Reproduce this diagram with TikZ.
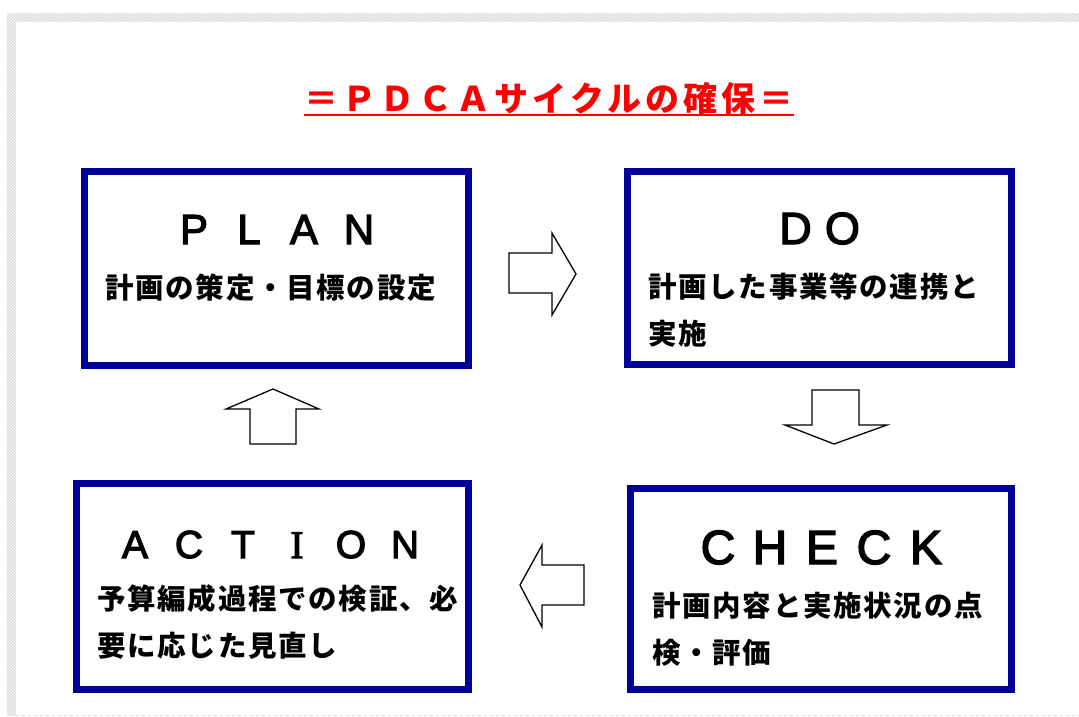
\documentclass[tikz,border=0pt]{standalone}
\usepackage{fontspec}
\usetikzlibrary{patterns}
\newfontfamily\jptitle[LetterSpace=12]{Noto Sans CJK JP}
\newfontfamily\headfont[FakeBold=3]{Liberation Sans}
\newfontfamily\headserif[FakeBold=3]{Liberation Serif}
\newfontfamily\jpbody[LetterSpace=6]{Noto Sans CJK JP}
\definecolor{boxblue}{RGB}{0,0,150}
% one letter of a heading in a cell of fixed pitch
\newcommand{\hdl}[2][54pt]{\makebox[#1][c]{#2}}

\begin{document}
\begin{tikzpicture}[x=1pt,y=-1pt,
    stagebox/.style={draw=boxblue,line width=7pt,fill=white,inner sep=0pt},
    headtext/.style={inner sep=0pt,anchor=base},
    bodytext/.style={inner sep=0pt,anchor=base west,font=\jpbody\bfseries\fontsize{28.5}{34}\selectfont},
    blockarrow/.style={draw=black,line width=1.3pt,fill=white,line join=miter}]
    \useasboundingbox (0,0) rectangle (1079,716);
    % hatched frame
    \fill[black!14] (7,13) rectangle (1079,22);
    \fill[black!14] (7,13) rectangle (16,716);
    \fill[pattern=north east lines,pattern color=white] (7,13) rectangle (1079,22);
    \fill[pattern=north east lines,pattern color=white] (7,13) rectangle (16,716);
    \draw[black!15,dashed,line width=1pt] (16,715) -- (1079,715);

    % title
    \node[inner sep=0pt,anchor=base,text=red,font=\jptitle\bfseries\fontsize{34}{40}\selectfont] (title) at (549,111) {＝ＰＤＣＡサイクルの確保＝};
    \draw[red,line width=2pt] ([yshift=-4pt]title.base west) -- ([yshift=-4pt]title.base east);

    % the four stages
    \node[stagebox,minimum width=384pt,minimum height=194pt] (plan) at (276,268) {};
    \node[stagebox,minimum width=384pt,minimum height=193pt] (do) at (819,267.5) {};
    \node[stagebox,minimum width=392pt,minimum height=206pt] (action) at (272,586) {};
    \node[stagebox,minimum width=381pt,minimum height=201pt] (check) at (820.5,588.5) {};

    \node[headtext,font=\headfont\fontsize{42}{44}\selectfont] (planhead) at (276.5,244)
        {\hdl[55pt]{P}\hdl[55pt]{L}\hdl[55pt]{A}\hdl[55pt]{N}};
    \node[headtext,font=\headfont\fontsize{45}{46}\selectfont] (dohead) at (819,244)
        {\hdl[47pt]{D}\hdl[47pt]{O}};
    \node[headtext,font=\headfont\fontsize{39}{40}\selectfont] (actionhead) at (270,558)
        {\hdl[54pt]{A}\hdl[54pt]{C}\hdl[54pt]{T}\hdl[54pt]{\headserif I}\hdl[54pt]{O}\hdl[54pt]{N}};
    \node[headtext,font=\headfont\fontsize{48}{50}\selectfont] (checkhead) at (822,564)
        {\hdl[52pt]{C}\hdl[52pt]{H}\hdl[52pt]{E}\hdl[52pt]{C}\hdl[52pt]{K}};

    \node[bodytext] (plan1) at (105,298) {計画の策定・目標の設定};
    \node[bodytext] (do1) at (648,297) {計画した事業等の連携と};
    \node[bodytext] (do2) at (648,344) {実施};
    \node[bodytext] (action1) at (97,609) {予算編成過程での検証、必};
    \node[bodytext] (action2) at (97,656) {要に応じた見直し};
    \node[bodytext] (check1) at (652,616) {計画内容と実施状況の点};
    \node[bodytext] (check2) at (652,663) {検・評価};

    % block arrows of the cycle
    \draw[blockarrow] (509,253) -- (552,253) -- (552,233) -- (576,274) -- (552,315) -- (552,293) -- (509,293) -- cycle;
    \draw[blockarrow] (812,390) -- (859,390) -- (859,425) -- (887,425) -- (834,444) -- (785,425) -- (812,425) -- cycle;
    \draw[blockarrow] (584,565) -- (542,565) -- (542,545) -- (520,585) -- (542,627) -- (542,605) -- (584,605) -- cycle;
    \draw[blockarrow] (250,444) -- (250,409) -- (226,409) -- (273,389) -- (319,409) -- (296,409) -- (296,444) -- cycle;
\end{tikzpicture}
\end{document}
